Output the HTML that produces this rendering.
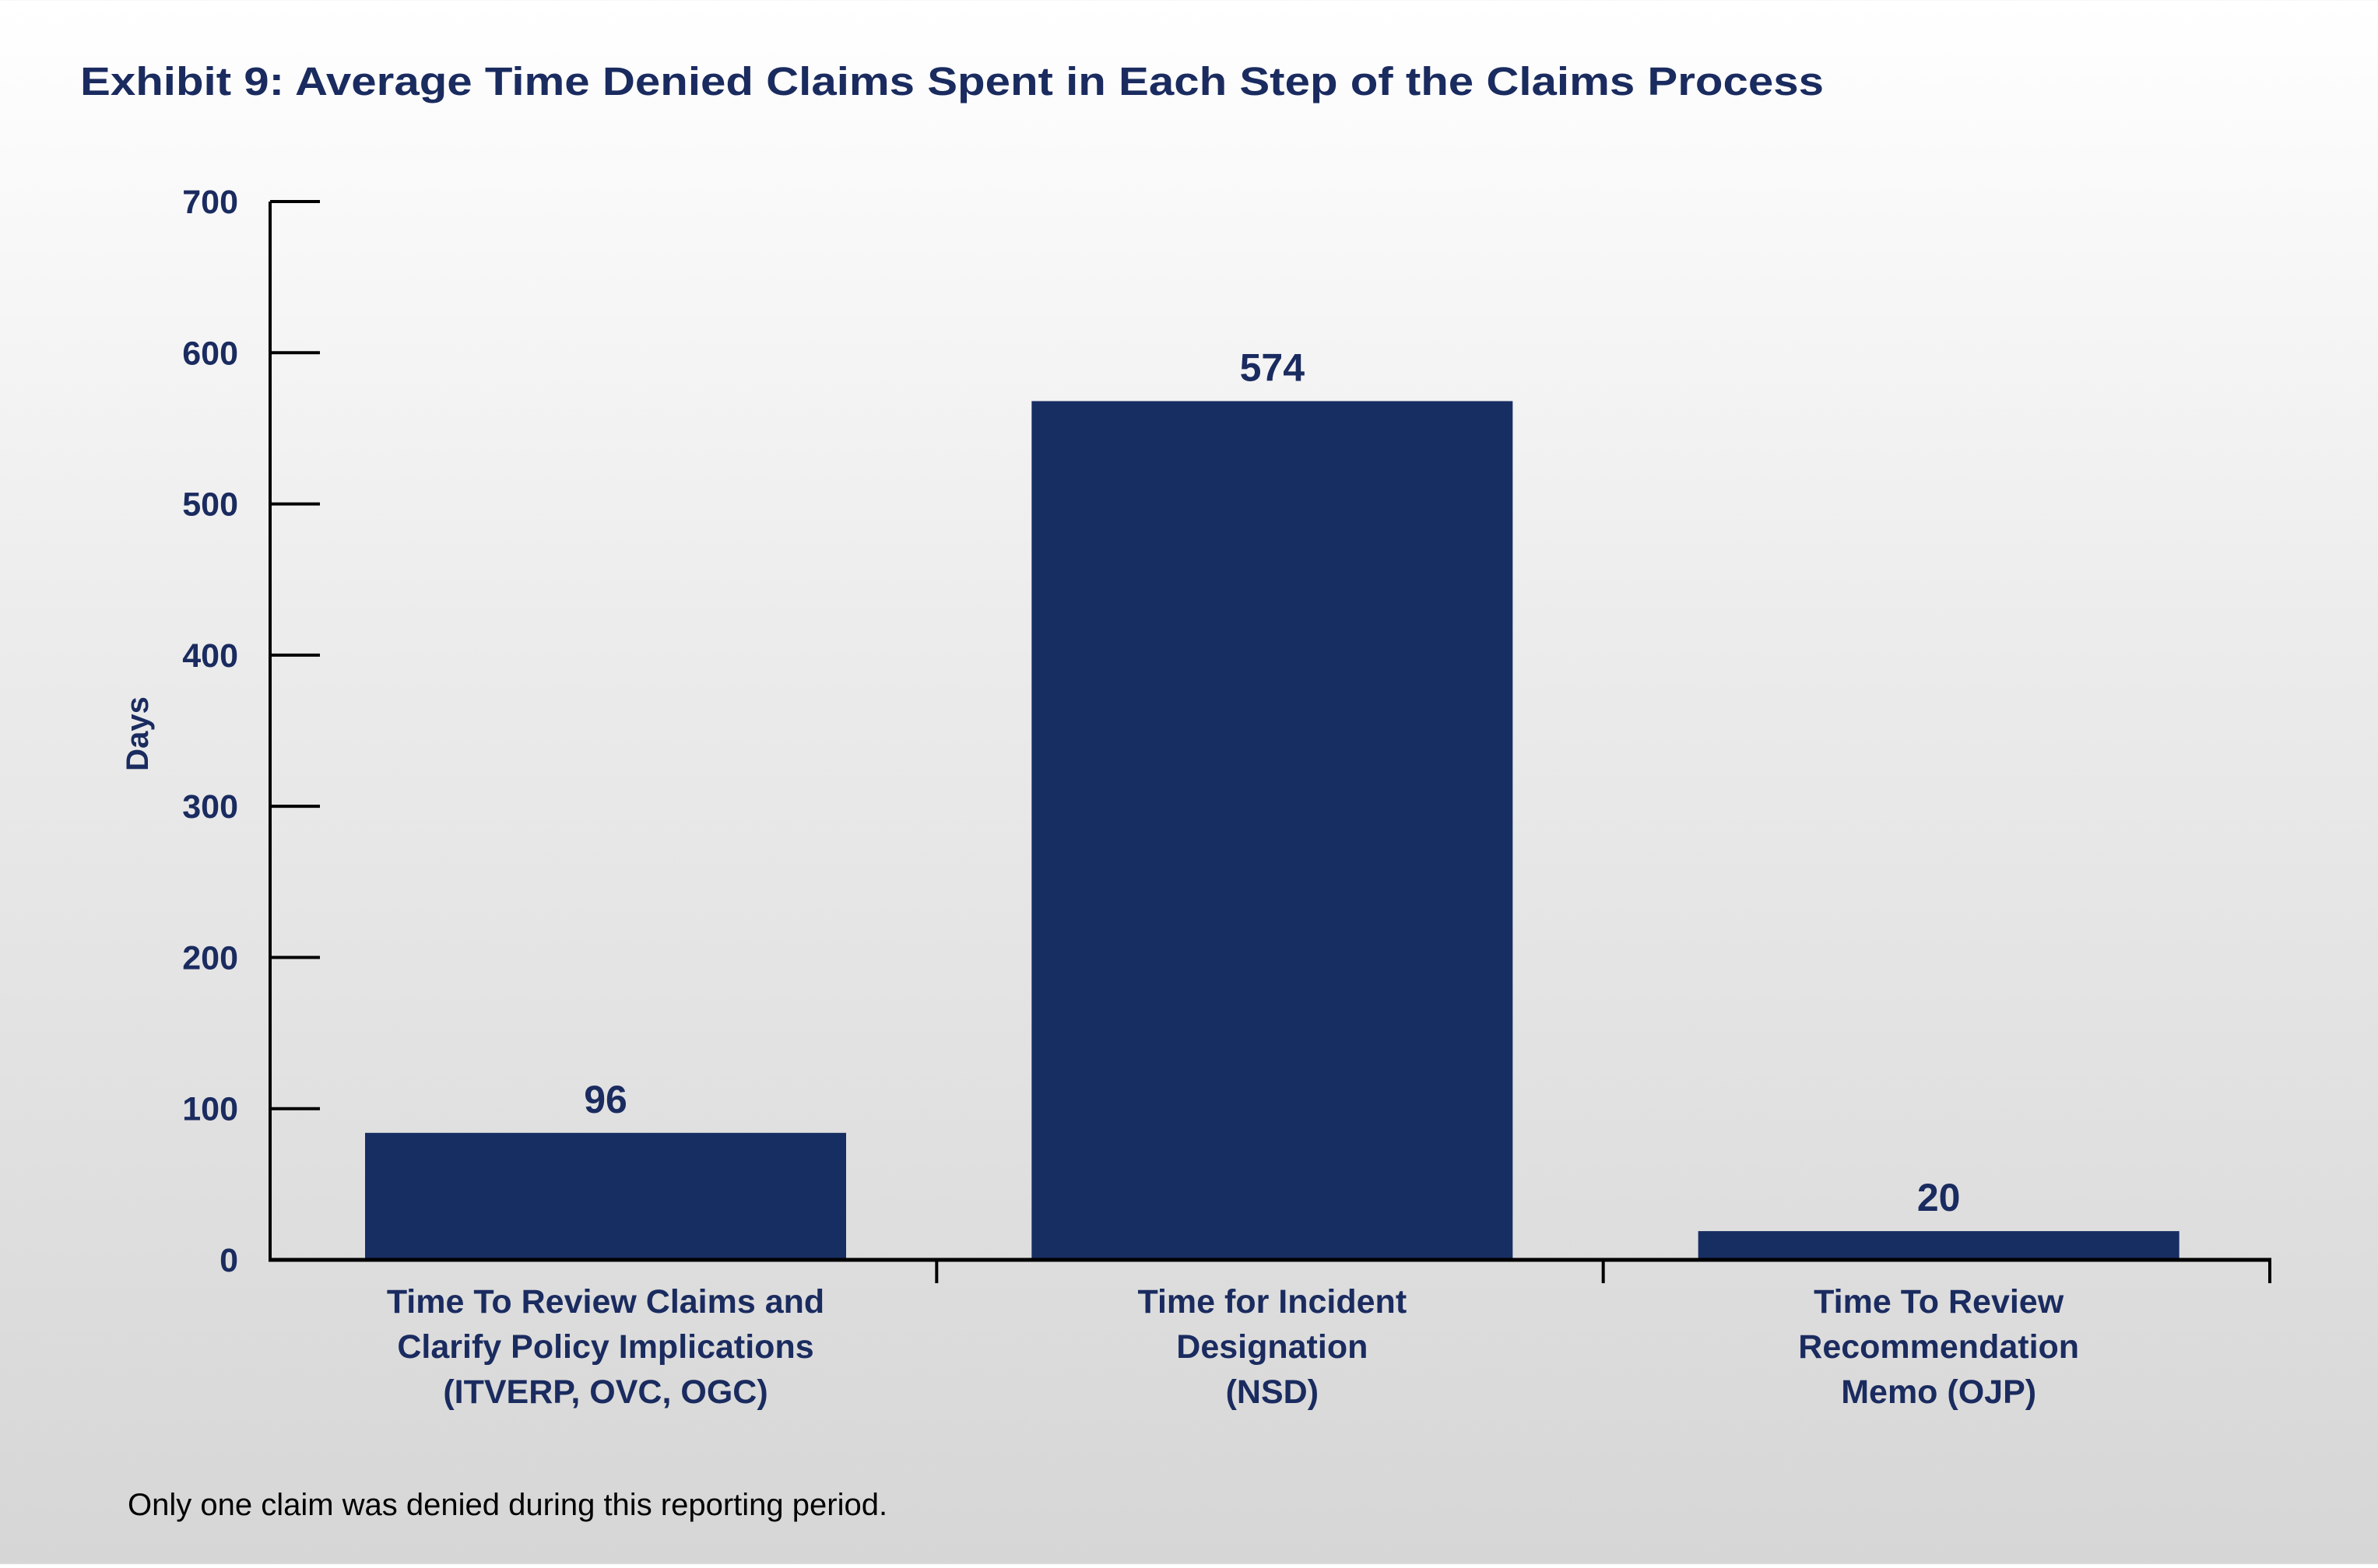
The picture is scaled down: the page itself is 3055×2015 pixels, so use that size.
<!DOCTYPE html>
<html><head><meta charset="utf-8">
<style>
html,body{margin:0;padding:0;}
body{width:3055px;height:2010px;overflow:hidden;background:linear-gradient(#ffffff 0%,#ececec 40%,#d6d6d6 100%);font-family:"Liberation Sans",sans-serif;}
svg text{font-family:"Liberation Sans",sans-serif;}
</style></head>
<body>
<svg id="chart" width="3055" height="2010" xmlns="http://www.w3.org/2000/svg">
<text x="103" y="122" font-size="51" font-weight="bold" fill="#1a2b5f" textLength="2240" lengthAdjust="spacingAndGlyphs">Exhibit 9: Average Time Denied Claims Spent in Each Step of the Claims Process</text>
<text transform="translate(190,943) rotate(-90)" text-anchor="middle" font-size="40" font-weight="bold" fill="#1a2b5f">Days</text>
<text x="164" y="1947" font-size="40" fill="#000">Only one claim was denied during this reporting period.</text>
<g id="plot"></g>
</svg>
<script>
const categories = [
  ["Time To Review Claims and","Clarify Policy Implications","(ITVERP, OVC, OGC)"],
  ["Time for Incident","Designation","(NSD)"],
  ["Time To Review","Recommendation","Memo (OJP)"]
];
const barValues = [84, 568, 19];
const valueLabels = ["96", "574", "20"];
const yTicks = [0, 100, 200, 300, 400, 500, 600, 700];

const NS = "http://www.w3.org/2000/svg";
const g = document.getElementById('plot');
const x0 = 347, x1 = 2916, yBase = 1619, yTop = 259, yMax = 700;
const catW = (x1 - x0) / categories.length;
const barW = 618, barOff = 122;
function yScale(v){ return yBase - (v / yMax) * (yBase - yTop); }
function xCat(i){ return x0 + i * catW; }
function mk(tag, attrs){ const e = document.createElementNS(NS, tag); for (const k in attrs) e.setAttribute(k, attrs[k]); g.appendChild(e); return e; }

barValues.forEach((v, i) => {
  const r = mk('rect', {x: xCat(i) + barOff, y: yScale(v), width: barW, height: yBase - yScale(v), fill: '#172e63'});
  
  
  const t = mk('text', {x: xCat(i) + barOff + barW / 2, y: yScale(v) - 26, 'text-anchor': 'middle', 'font-size': 50, 'font-weight': 'bold', fill: '#1a2b5f'});
  t.textContent = valueLabels[i];
  
  
  const lbl = mk('text', {'text-anchor': 'middle', 'font-size': 43, 'font-weight': 'bold', fill: '#1a2b5f'});
  
  
  categories[i].forEach((line, j) => {
    const ts = document.createElementNS(NS, 'tspan');
    ts.setAttribute('x', xCat(i) + barOff + barW / 2);
    ts.setAttribute('y', 1687 + j * 58);
    ts.textContent = line;
    lbl.appendChild(ts);
  });
  const ct = mk('line', {x1: xCat(i + 1), x2: xCat(i + 1), y1: yBase, y2: yBase + 30, stroke: '#000', 'stroke-width': 4});
  
  
});

yTicks.forEach(v => {
  const y = yScale(v);
  const tl = mk('line', {x1: x0, x2: x0 + 64, y1: y, y2: y, stroke: '#000', 'stroke-width': 4});
  
  
  const tt = mk('text', {x: 306, y: y + 15, 'text-anchor': 'end', 'font-size': 43, 'font-weight': 'bold', fill: '#1a2b5f'});
  tt.textContent = v;
  
  
});

const ya = mk('line', {x1: x0, x2: x0, y1: yTop, y2: yBase + 2, stroke: '#000', 'stroke-width': 4});


const xa = mk('line', {x1: x0 - 2, x2: x1 + 2, y1: yBase, y2: yBase, stroke: '#000', 'stroke-width': 5});


</script>
</body></html>
